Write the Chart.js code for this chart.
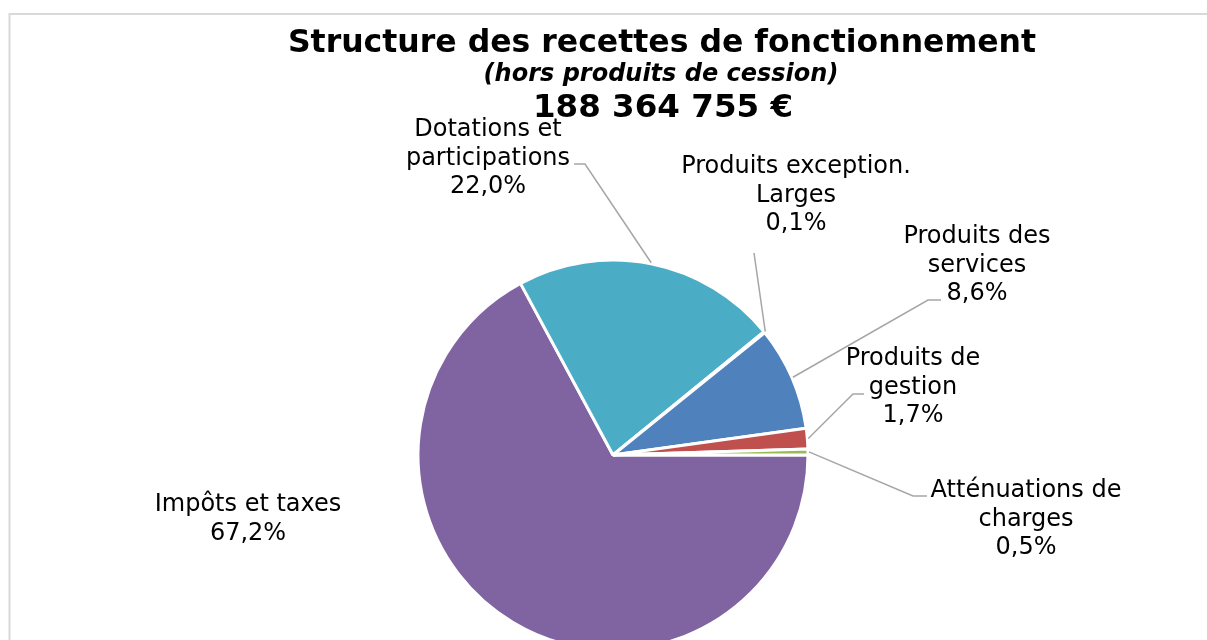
<!DOCTYPE html>
<html>
<head>
<meta charset="utf-8">
<script src="https://cdn.jsdelivr.net/npm/chart.js@4.4.0/dist/chart.umd.min.js"></script>
<style>
  html, body { margin: 0; padding: 0; background: #fff; overflow: hidden; }
  #cadre { width: 1207px; height: 640px; overflow: hidden; }
</style>
</head>
<body>
<div id="cadre"><canvas id="camembert" width="1207" height="680"></canvas></div>
<script>
var categories = [
  ['Impôts et taxes'],
  ['Dotations et', 'participations'],
  ['Produits exception.', 'Larges'],
  ['Produits des', 'services'],
  ['Produits de', 'gestion'],
  ['Atténuations de', 'charges']
];
var pourcentages = [67.2, 22.0, 0.1, 8.6, 1.7, 0.5];
var couleurs = ['#8064A2', '#4BACC6', '#F79646', '#4F81BD', '#C0504D', '#9BBB59'];
var titre = 'Structure des recettes de fonctionnement';
var sousTitre = '(hors produits de cession)';
var montant = '188 364 755 €';

// emplacement des étiquettes, en px par rapport au centre du camembert
var etiquettes = [
  { dx: -365, dy: 56 },
  { dx: -125, dy: -319, fil: [[-39, -291], [-28, -291]] },
  { dx: 183,  dy: -282, fil: [[141, -202]] },
  { dx: 364,  dy: -212, fil: [[328, -155], [315, -155]] },
  { dx: 300,  dy: -90,  fil: [[251, -61], [240, -61]] },
  { dx: 413,  dy: 42,   fil: [[314, 41], [300, 41]] }
];

var dessin = {
  id: 'dessin',
  beforeDraw: function(chart) {
    var ctx = chart.ctx;
    ctx.save();
    ctx.strokeStyle = '#d9d9d9';
    ctx.lineWidth = 2;
    ctx.beginPath();
    ctx.moveTo(9.5, chart.height);
    ctx.lineTo(9.5, 14);
    ctx.lineTo(chart.width, 14);
    ctx.stroke();
    ctx.restore();
  },
  afterDraw: function(chart) {
    var ctx = chart.ctx;
    var arcs = chart.getDatasetMeta(0).data;
    var cx = arcs[0].x, cy = arcs[0].y;
    ctx.save();

    // traits de rappel
    ctx.strokeStyle = '#a6a6a6';
    ctx.lineWidth = 1.5;
    etiquettes.forEach(function(e, i) {
      if (!e.fil) return;
      var a = arcs[i];
      var mid = (a.startAngle + a.endAngle) / 2;
      ctx.beginPath();
      e.fil.forEach(function(p, k) {
        if (k == 0) ctx.moveTo(cx + p[0], cy + p[1]);
        else ctx.lineTo(cx + p[0], cy + p[1]);
      });
      ctx.lineTo(cx + Math.cos(mid) * (a.outerRadius + 1), cy + Math.sin(mid) * (a.outerRadius + 1));
      ctx.stroke();
    });

    // étiquettes
    ctx.fillStyle = '#000';
    ctx.textAlign = 'center';
    ctx.textBaseline = 'alphabetic';
    ctx.font = '24px "DejaVu Sans"';
    etiquettes.forEach(function(e, i) {
      var lignes = categories[i].concat([pourcentages[i].toFixed(1).replace('.', ',') + '%']);
      lignes.forEach(function(l, k) {
        ctx.fillText(l, cx + e.dx, cy + e.dy + k * 28.5);
      });
    });

    // titres
    ctx.font = 'bold 31.5px "DejaVu Sans"';
    ctx.fillText(titre, 662, 52);
    ctx.font = 'italic bold 24px "DejaVu Sans"';
    ctx.fillText(sousTitre, 661, 81);
    ctx.font = 'bold 32.5px "DejaVu Sans"';
    ctx.fillText(montant, 663, 117);
    ctx.restore();
  }
};

var ctx = document.getElementById('camembert').getContext('2d');
window.camembert = new Chart(ctx, {
  type: 'pie',
  data: {
    labels: categories,
    datasets: [{
      data: pourcentages,
      backgroundColor: couleurs,
      borderColor: '#ffffff',
      borderWidth: 3,
      radius: 195
    }]
  },
  options: {
    responsive: false,
    animation: false,
    devicePixelRatio: 1,
    rotation: 90,
    layout: { padding: { left: 413, right: 394, top: 255, bottom: 25 } },
    plugins: {
      legend: { display: false },
      tooltip: { enabled: false },
      title: { display: false }
    }
  },
  plugins: [dessin]
});
</script>
</body>
</html>
